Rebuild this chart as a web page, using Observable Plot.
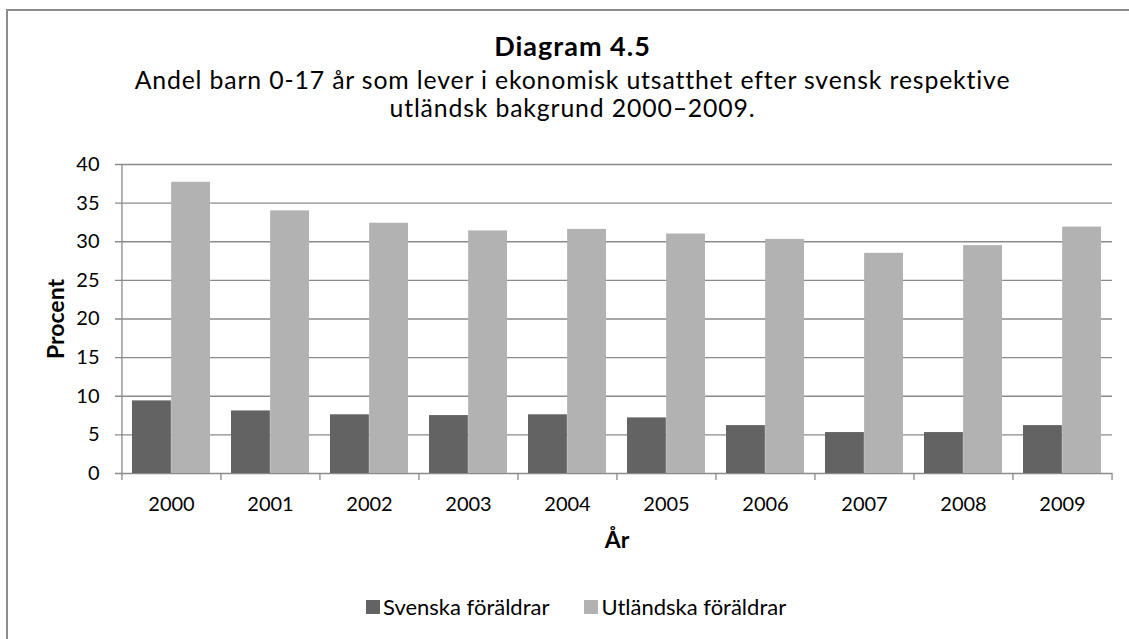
<!DOCTYPE html>
<html>
<head>
<meta charset="utf-8">
<script src="https://cdn.jsdelivr.net/npm/d3@7"></script>
<script src="https://cdn.jsdelivr.net/npm/@observablehq/plot@0.6"></script>
<style>
  html, body { margin: 0; padding: 0; background: #fff; }
  #page { position: relative; width: 1129px; height: 639px; overflow: hidden; font-family: Lato, "Open Sans", sans-serif; color: #000; }
  #frame { position: absolute; left: 6px; top: 9px; width: 1200px; height: 700px; border-top: 2px solid #8c8c8c; border-left: 2px solid #8c8c8c; }
  #title { position: absolute; left: 16px; width: 1113px; top: 30px; text-align: center; font-weight: bold; font-size: 27px; letter-spacing: 1px; line-height: 32px; }
  #subtitle { position: absolute; left: 16px; width: 1113px; top: 66px; text-align: center; font-size: 24.8px; letter-spacing: 0.85px; line-height: 28px; }
  #chart { position: absolute; left: 0; top: 140px; }
  #legend { position: absolute; left: 366px; top: 594px; display: flex; align-items: center; font-size: 22px; line-height: 26px; }
  .item { display: flex; align-items: center; margin-right: 35px; }
  .sw { width: 14px; height: 14px; margin-right: 3px; }
</style>
</head>
<body>
<div id="page">
  <div id="frame"></div>
  <div id="title">Diagram 4.5</div>
  <div id="subtitle">Andel barn 0-17 år som lever i ekonomisk utsatthet efter svensk respektive<br>utländsk bakgrund 2000–2009.</div>
  <div id="chart"></div>
  <div id="legend"></div>
</div>
<script>
const years = ["2000","2001","2002","2003","2004","2005","2006","2007","2008","2009"];
const svenska = [9.4, 8.1, 7.6, 7.5, 7.6, 7.2, 6.2, 5.3, 5.3, 6.2];
const utlandska = [37.7, 34.0, 32.4, 31.4, 31.6, 31.0, 30.3, 28.5, 29.5, 31.9];
const yTicks = [0, 5, 10, 15, 20, 25, 30, 35, 40];
const seriesNames = ["Svenska föräldrar", "Utländska föräldrar"];
const seriesColors = ["#636363", "#b2b2b2"];

const table = years.map((y, i) => ({year: y, sv: svenska[i], ut: utlandska[i]}));

const W = 1129, H = 420, ML = 121, MR = 17, MT = 24, MB = 87;
const padInner = 0.21;
const step = (W - ML - MR) / years.length;
const bw = step * (1 - padInner);
const gray = "#8a8a8a";

const chart = Plot.plot({
  width: W, height: H,
  marginLeft: ML, marginRight: MR, marginTop: MT, marginBottom: MB,
  style: {fontFamily: "Lato, 'Open Sans', sans-serif", fontSize: "20px", color: "#000", background: "transparent"},
  x: {type: "band", domain: years, paddingInner: padInner, paddingOuter: padInner / 2, label: null},
  y: {domain: [0, 40], label: null},
  marks: [
    Plot.ruleY(yTicks, {stroke: gray, strokeWidth: 1.3, insetLeft: -6}),
    Plot.barY(table, {x: "year", y: "sv", fill: seriesColors[0], insetRight: bw / 2}),
    Plot.barY(table, {x: "year", y: "ut", fill: seriesColors[1], insetLeft: bw / 2}),
    Plot.ruleX([years[0]], {x: d => d, dx: -step / 2, y1: 0, y2: 40, stroke: gray, strokeWidth: 1.3}),
    Plot.ruleX(years, {x: d => d, dx: -step / 2, y1: 0, y2: 0, insetBottom: -7, stroke: gray, strokeWidth: 1.3}),
    Plot.ruleX([years[years.length - 1]], {x: d => d, dx: step / 2, y1: 0, y2: 0, insetBottom: -7, stroke: gray, strokeWidth: 1.3}),
    Plot.axisX({tickSize: 0, tickPadding: 23, label: null, fontSize: 20}),
    Plot.axisY({ticks: yTicks, tickSize: 0, tickPadding: 22, label: null, fontSize: 20}),
    Plot.text(["Procent"], {frameAnchor: "left", rotate: -90, dx: -65, textAnchor: "middle", lineAnchor: "middle", fontWeight: "bold", fontSize: 23}),
    Plot.text(["År"], {frameAnchor: "bottom", dy: 67, textAnchor: "middle", lineAnchor: "middle", fontWeight: "bold", fontSize: 23})
  ]
});
document.getElementById("chart").appendChild(chart);

const legend = document.getElementById("legend");
seriesNames.forEach((n, i) => {
  const it = document.createElement("div");
  it.className = "item";
  const sw = document.createElement("div");
  sw.className = "sw";
  sw.style.background = seriesColors[i];
  const t = document.createElement("span");
  t.textContent = n;
  it.appendChild(sw); it.appendChild(t);
  legend.appendChild(it);
});
</script>
</body>
</html>
